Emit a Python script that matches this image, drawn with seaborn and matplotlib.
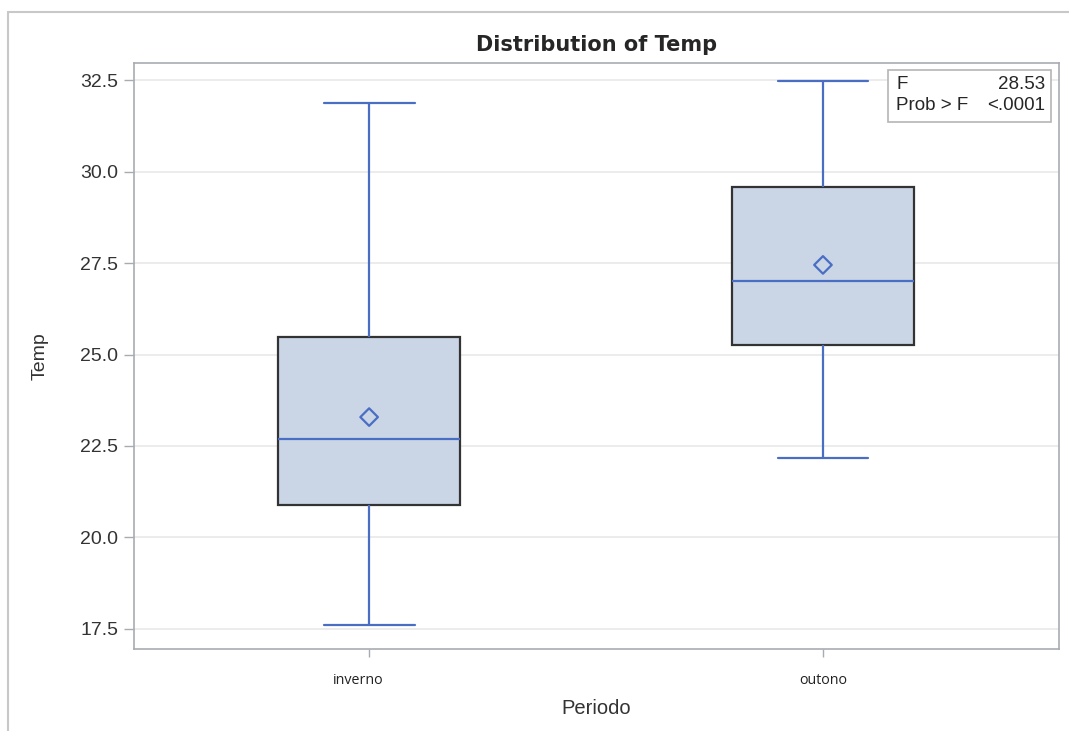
import numpy as np
import pandas as pd
import seaborn as sns
import matplotlib.pyplot as plt
import matplotlib.transforms as mtransforms
from matplotlib.patches import Rectangle
from matplotlib.lines import Line2D

# five-number summaries
periods = ["inverno", "outono"]
whisker_low = [17.6, 22.17]
q1 = [20.89, 25.26]
median = [22.69, 27.01]
q3 = [25.48, 29.58]
whisker_high = [31.87, 32.48]
means = [23.29, 27.45]

f_value = "28.53"
p_value = "<.0001"
y_ticks = [17.5, 20.0, 22.5, 25.0, 27.5, 30.0, 32.5]

blue = "#4a6ec4"
box_fill = "#cad5e5"
box_edge = "#333333"
frame_gray = "#a8acb0"

sns.set_theme(style="white")
plt.rcParams["font.family"] = ["Liberation Sans", "DejaVu Sans"]

rows = []
for i, p in enumerate(periods):
    for v in (whisker_low[i], q1[i], median[i], q3[i], whisker_high[i]):
        rows.append({"Periodo": p, "Temp": v})
df = pd.DataFrame(rows)
df_mean = pd.DataFrame({"Periodo": periods, "Temp": means})

fig = plt.figure(figsize=(10.69, 7.31), dpi=100)
ax = fig.add_axes([0.1254, 0.1122, 0.8652, 0.8016])

for y in y_ticks:
    ax.axhline(y, color="#ebebeb", lw=1.3, zorder=0)

sns.boxplot(data=df, x="Periodo", y="Temp", order=periods, width=0.4,
            whis=(0, 100), showfliers=False, saturation=1, color=box_fill,
            boxprops=dict(facecolor=box_fill, edgecolor=box_edge, linewidth=1.6),
            whiskerprops=dict(color=blue, linewidth=1.6),
            capprops=dict(color=blue, linewidth=1.6),
            medianprops=dict(color=blue, linewidth=1.6),
            ax=ax)

sns.scatterplot(data=df_mean, x="Periodo", y="Temp", marker="D", s=80,
                facecolor="none", edgecolor=blue, linewidth=1.6, zorder=5, ax=ax)

ax.set_xlim(-0.518, 1.52)
ax.set_ylim(16.95, 32.97)
ax.set_yticks(y_ticks)
ax.set_yticklabels([f"{t:.1f}" for t in y_ticks], fontsize=14, color="#333333")
ax.set_xticks(range(len(periods)))
ax.set_xticklabels(periods, fontsize=10.3, color="#222222", family=["Open Sans", "DejaVu Sans"])
ax.tick_params(axis="both", which="both", direction="out", length=7.5, width=1,
               color=frame_gray, left=True, bottom=True, pad=4)
ax.tick_params(axis="x", length=6, pad=11)
for s in ax.spines.values():
    s.set_color(frame_gray)
    s.set_linewidth(1.2)

# the first category label sits a little left of its tick in the original
lbl = ax.get_xticklabels()[0]
lbl.set_transform(lbl.get_transform() + mtransforms.ScaledTranslation(-11 / 100, 0, fig.dpi_scale_trans))

ax.set_xlabel("Periodo", fontsize=14.5, color="#333333", labelpad=8)
ax.set_ylabel("Temp", fontsize=14, color="#333333", labelpad=23)
ax.set_title("Distribution of Temp", fontsize=15, fontweight="bold", pad=9,
             family=["DejaVu Sans"])

# F statistic inset
ax.add_patch(Rectangle((0.815, 0.899), 0.176, 0.089, transform=ax.transAxes,
                       facecolor="white", edgecolor="#b5b5b5", lw=1.2, zorder=6))
ax.text(0.824, 0.963, "F", transform=ax.transAxes, fontsize=13.5, va="center", ha="left", zorder=7)
ax.text(0.985, 0.963, f_value, transform=ax.transAxes, fontsize=13.5, va="center", ha="right", zorder=7)
ax.text(0.824, 0.927, "Prob > F", transform=ax.transAxes, fontsize=13.5, va="center", ha="left", zorder=7)
ax.text(0.985, 0.927, p_value, transform=ax.transAxes, fontsize=13.5, va="center", ha="right", zorder=7)

# outer frame of the screenshot
fig.add_artist(Line2D([8 / 1069, 8 / 1069], [0, 1 - 12 / 731], transform=fig.transFigure,
                      color="#c8c8c8", lw=1.5))
fig.add_artist(Line2D([8 / 1069, 1], [1 - 12 / 731, 1 - 12 / 731], transform=fig.transFigure,
                      color="#c8c8c8", lw=1.5))

fig.savefig("out.png", dpi=100)
